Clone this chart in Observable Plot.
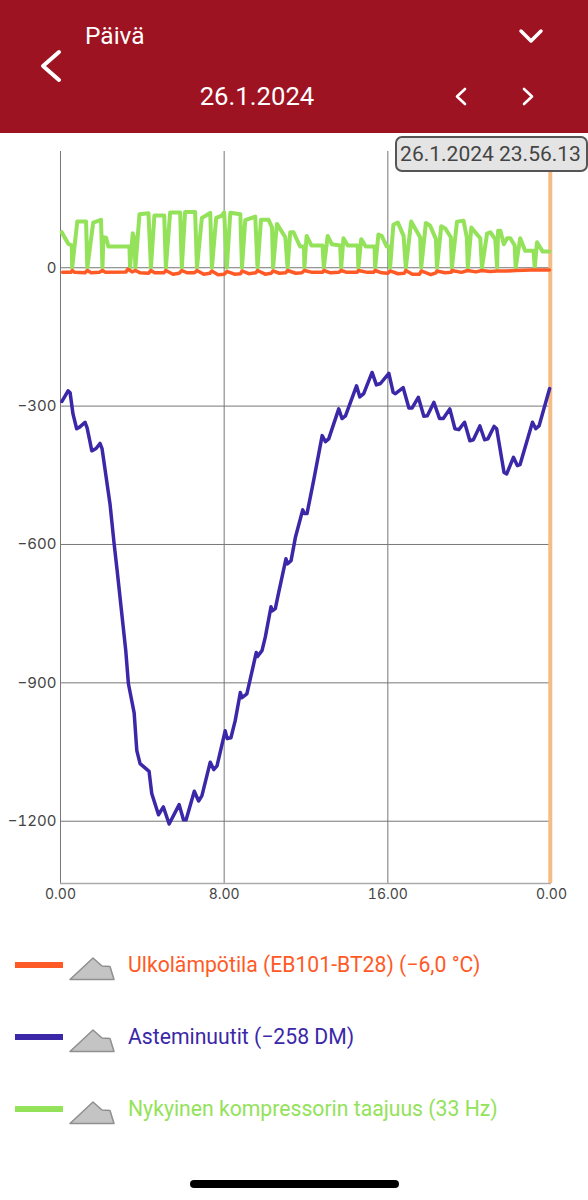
<!DOCTYPE html>
<html><head><meta charset="utf-8">
<script src="https://cdn.jsdelivr.net/npm/d3@7"></script>
<script src="https://cdn.jsdelivr.net/npm/@observablehq/plot@0.6"></script>
<style>
html,body{margin:0;padding:0;background:#fff;font-family:Roboto,sans-serif}
#page{position:relative;width:588px;height:1200px;overflow:hidden}
#head{position:absolute;left:0;top:0;width:588px;height:133px;background:#9e1322;color:#fff}
#head div{position:absolute;line-height:1}
#head svg{position:absolute;left:0;top:0}
#chart{position:absolute;left:0;top:133px}
#chart svg{display:block;background:transparent}
#tip{position:absolute;left:395px;top:136px;width:189px;height:32px;box-sizing:content-box;background:#e4e4e4;border:2px solid #555;border-radius:7px;color:#444;font-size:21px;line-height:32px;text-align:center;white-space:nowrap;text-indent:-2px}
.leg{position:absolute;left:0;width:588px;height:40px}
.leg span{position:absolute;left:128px;top:7px;font-size:21.2px;line-height:26px;white-space:nowrap}
.leg i{position:absolute;left:15px;top:17px;width:48px;height:6px}
.leg svg{position:absolute;left:68px;top:8px}
#pill{position:absolute;left:190px;top:1180px;width:209px;height:8px;border-radius:4px;background:#000}
</style></head><body>
<div id="page">
  <div id="head">
    <div style="left:85px;top:24px;font-size:24.5px">Päivä</div>
    <div style="left:0;width:514px;text-align:center;top:84px;font-size:25.7px">26.1.2024</div>
    <svg width="588" height="133" fill="none" stroke="#fff" stroke-linecap="round" stroke-linejoin="round">
      <path d="M59 52 L43 66 L59 80" stroke-width="4"/>
      <path d="M521 31 L531 41 L541 31" stroke-width="3.5"/>
      <path d="M465 89 L457 96.500 L465 104" stroke-width="2.6"/>
      <path d="M524 89 L532 96.500 L524 104" stroke-width="2.6"/>
    </svg>
  </div>
  <div id="chart"></div>
  <div id="tip">26.1.2024 23.56.13</div>
  <div id="legend"></div>
  <div id="pill"></div>
</div>
<script>
const blueH = [0.07,0.37,0.47,0.61,0.79,0.95,1.20,1.30,1.44,1.53,1.74,1.93,2.03,2.42,2.62,2.77,3.19,3.32,3.60,3.73,3.89,4.33,4.46,4.79,5.03,5.31,5.80,6.01,6.14,6.54,6.75,6.91,7.32,7.49,7.65,8.05,8.15,8.33,8.54,8.79,8.87,9.11,9.28,9.57,9.62,9.85,10.01,10.29,10.35,10.50,10.65,11.02,11.09,11.27,11.48,11.84,11.92,12.05,12.37,12.79,12.95,13.11,13.60,13.76,13.93,14.47,14.63,14.82,15.23,15.44,15.64,16.05,16.26,16.37,16.75,17.03,17.19,17.49,17.76,17.93,18.25,18.53,18.71,19.03,19.28,19.47,19.75,20.01,20.18,20.50,20.73,20.89,21.19,21.32,21.68,21.81,22.14,22.33,22.46,23.07,23.23,23.39,23.91];
const blueV = [-290,-267,-271,-317,-349,-345,-335,-347,-377,-397,-392,-381,-392,-512,-598,-657,-830,-902,-965,-1047,-1075,-1092,-1140,-1186,-1169,-1206,-1164,-1197,-1197,-1135,-1156,-1145,-1072,-1088,-1080,-1004,-1021,-1019,-982,-921,-932,-924,-891,-834,-843,-830,-801,-735,-744,-739,-707,-631,-642,-635,-585,-525,-533,-533,-462,-364,-377,-371,-306,-327,-321,-256,-280,-273,-227,-254,-251,-229,-270,-273,-260,-304,-304,-281,-322,-321,-292,-327,-327,-306,-349,-351,-335,-375,-373,-343,-373,-371,-344,-349,-444,-447,-411,-429,-427,-335,-349,-343,-262];

const greenH = [0.06,0.38,0.55,0.57,0.82,1.25,1.31,1.60,1.98,2.05,2.10,2.23,2.34,3.37,3.40,3.53,3.62,3.66,3.86,4.30,4.42,4.59,5.07,5.15,5.36,5.85,5.93,6.09,6.58,6.67,6.91,7.32,7.40,7.61,7.89,8.00,8.13,8.30,8.79,8.87,9.03,9.52,9.63,9.80,10.17,10.34,10.39,10.58,10.99,11.10,11.23,11.39,11.71,11.90,11.92,12.03,12.27,12.81,12.87,13.06,13.26,13.67,13.72,13.83,14.04,14.53,14.56,14.70,14.92,15.35,15.38,15.54,15.70,15.95,16.08,16.11,16.27,16.49,16.77,16.88,17.14,17.58,17.63,17.86,18.07,18.35,18.40,18.61,18.81,19.08,19.13,19.38,19.70,19.86,19.91,20.08,20.52,20.60,20.85,21.01,21.25,21.34,21.39,21.50,21.67,21.83,21.99,22.20,22.25,22.47,22.71,23.12,23.18,23.29,23.57,23.90];
const greenV = [77,52,48,0,100,100,0,98,104,0,66,65,46,46,0,75,62,0,116,118,0,113,113,0,120,120,0,121,121,0,108,119,0,108,113,120,0,119,116,0,103,111,0,104,104,87,0,95,66,0,77,77,46,46,0,69,48,48,0,69,51,48,0,64,48,48,0,62,46,46,0,72,69,46,46,0,93,98,69,0,100,66,0,97,91,62,0,90,85,66,0,100,102,66,0,87,64,0,74,77,62,0,80,80,51,64,64,48,0,64,37,37,0,55,35,35];

const orangeH = [0.1,0.5,0.57,0.7,1.2,1.31,1.5,1.9,2.05,2.2,3.2,3.3,3.5,3.66,3.9,4.3,4.42,4.6,5.05,5.15,5.5,5.8,5.93,6.2,6.55,6.67,7,7.3,7.4,7.7,8,8.13,8.5,8.8,8.87,9.2,9.55,9.63,10,10.3,10.39,10.7,11,11.1,11.5,11.8,11.92,12.3,12.8,12.87,13.2,13.6,13.72,14,14.5,14.56,15,15.3,15.38,15.7,16,16.11,16.5,16.8,16.88,17.2,17.55,17.63,18.1,18.35,18.4,18.8,19.1,19.13,19.6,19.9,20.3,20.6,21,21.34,21.8,22.25,23,23.9];
const orangeV = [-10,-10,-6,-10,-11,-6,-11,-10,-6,-10,-9,-3,-9,-6,-11,-12,-6,-11,-11,-6,-14,-12,-6,-11,-11,-6,-14,-12,-7,-15,-14,-8,-14,-13,-7,-13,-11,-6,-14,-12,-7,-12,-11,-6,-12,-11,-6,-10,-10,-6,-11,-10,-6,-10,-10,-6,-10,-10,-6,-11,-12,-7,-13,-12,-6,-14,-14,-7,-15,-11,-7,-11,-10,-6,-10,-6,-9,-6,-8,-7,-7,-6,-5,-5];

const xTicks = [0,8,16,24];
const xTickLabels = ["0.00","8.00","16.00","0.00"];
const yTicks = [0,-300,-600,-900,-1200];
const yMin = -1335, yMax = 252;
const cursorHour = 23.94;
const names = ["Ulkolämpötila (EB101-BT28) (−6,0 °C)","Asteminuutit (−258 DM)","Nykyinen kompressorin taajuus (33 Hz)"];
const colors = ["#ff5a26","#3a28a8","#93e25a"];

const pts = (h,v) => h.map((d,i)=>({h:d,v:v[i]}));
const chart = Plot.plot({
  width:588, height:772,
  marginLeft:60, marginRight:37, marginTop:18, marginBottom:22,
  style:{fontFamily:"Inter, sans-serif",background:"transparent"},
  x:{domain:[0,24],label:null},
  y:{domain:[yMin,yMax],label:null},
  marks:[
    Plot.ruleX(xTicks.slice(0,3),{stroke:"#777",strokeWidth:1}),
    Plot.ruleY(yTicks,{x1:0,x2:24,stroke:"#777",strokeWidth:1}),
    Plot.ruleY([yMin],{x1:0,x2:24,stroke:"#aaa",strokeWidth:1.5}),
    Plot.axisX({ticks:xTicks,tickSize:0,tickPadding:6,fontSize:14,fill:"#444",tickFormat:d=>xTickLabels[xTicks.indexOf(d)],label:null}),
    Plot.axisY({ticks:yTicks,tickSize:0,tickPadding:4,fontSize:15,fill:"#444",tickFormat:d=>d===0?"0":"−"+Math.abs(d),label:null}),
    Plot.ruleX([cursorHour],{stroke:"#f5bd85",strokeWidth:4}),
    Plot.line(pts(greenH,greenV),{x:"h",y:"v",stroke:colors[2],strokeWidth:4,strokeLinejoin:"round"}),
    Plot.line(pts(blueH,blueV),{x:"h",y:"v",stroke:colors[1],strokeWidth:3.5,strokeLinejoin:"round"}),
    Plot.line(pts(orangeH,orangeV),{x:"h",y:"v",stroke:colors[0],strokeWidth:3.5,strokeLinejoin:"round"})
  ]
});
document.getElementById("chart").append(chart);

const legend = document.getElementById("legend");
names.forEach((n,i)=>{
  const d = document.createElement("div");
  d.className = "leg";
  d.style.top = (945+72*i)+"px";
  d.innerHTML = `<i style="background:${colors[i]}"></i>
   <svg width="48" height="28"><path d="M2 26.500 L25 5 L34 13 L42 13.500 L46 26.500 Z" fill="#c4c4c4" stroke="#8f8f8f" stroke-width="1.500" stroke-linejoin="round"/></svg>
   <span style="color:${colors[i]}">${n}</span>`;
  legend.append(d);
});
</script>
</body></html>
